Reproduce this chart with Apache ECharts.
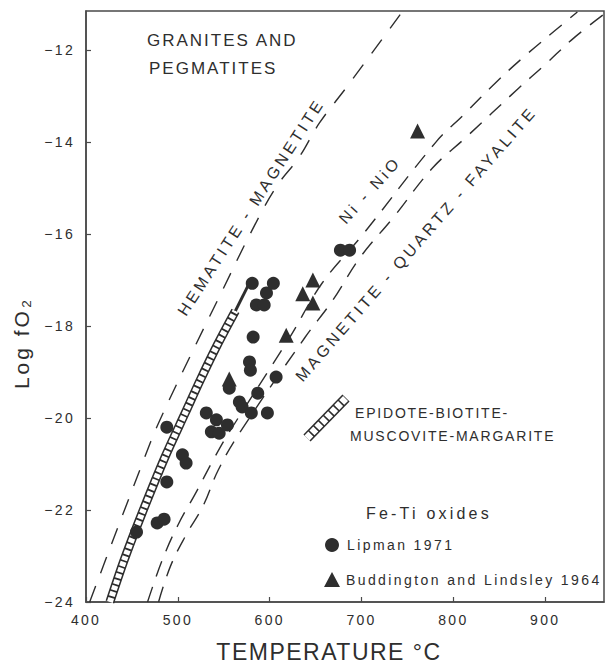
<!DOCTYPE html>
<html>
<head>
<meta charset="utf-8">
<script src="https://cdn.jsdelivr.net/npm/echarts@6/dist/echarts.min.js"></script>
<style>
html,body{margin:0;padding:0;background:#fff;}
#chart{width:606px;height:665px;}
</style>
</head>
<body>
<div id="chart"></div>
<script>
// ---- data ----
const xTicks = [400, 500, 600, 700, 800, 900];
const yTicks = [-24, -22, -20, -18, -16, -14, -12];

// buffer curves (temperature °C, log fO2)
const hmBuffer = [[404,-24],[470,-20.54],[484,-19.89],[515,-18.59],[545,-17.37],[581,-15.91],[607,-14.98],[632,-14.33],[654,-13.59],[684,-12.80],[745,-11.15]];
const nnoBuffer = [[467,-24],[483,-23.09],[500,-22.33],[520,-21.61],[538,-20.93],[554,-20.37],[622,-18.24],[657,-17.07],[701,-16.02],[781,-14.0],[811,-13.41],[848,-12.67],[880,-12.09],[911,-11.57],[935,-11.17]];
const qfmBuffer = [[479,-24],[492,-23.22],[509,-22.54],[527,-21.93],[544,-21.13],[567,-20.33],[638,-18.26],[669,-17.43],[698,-16.52],[735,-15.63],[777,-14.57],[813,-13.91],[871,-12.83],[899,-12.33],[931,-11.74],[964,-11.22]];

// epidote-biotite-muscovite-margarite band and its solid upper end
const ebmmBand = [[426,-24],[441.5,-23.09],[461,-22.07],[486,-20.85],[508,-19.89],[524.5,-19.17],[543,-18.41],[562.7,-17.67]];
const ebmmCap = [[562.7,-17.67],[580,-16.98]];

// Fe-Ti oxide data
const lipman1971 = [
  [488,-20.20],[505,-20.80],[509,-20.98],[488,-21.39],[477.5,-22.28],[485,-22.20],[455,-22.48],
  [531,-19.89],[542,-20.04],[536.5,-20.30],[545,-20.33],[554,-20.15],[567,-19.65],[570,-19.76],
  [580,-19.89],[597.5,-19.89],[587,-19.46],[578,-18.78],[579,-18.96],[582,-18.24],[607,-19.11],
  [581,-17.07],[604,-17.07],[596.5,-17.28],[585.5,-17.54],[594,-17.54],[556,-19.35],
  [677,-16.35],[687,-16.35]
];
const buddington1964 = [[761,-13.76],[647,-17.0],[636,-17.30],[647,-17.50],[618,-18.20],[556,-19.15]];

// ---- styling ----
const INK = '#2e2e2e';
const AXIS = '#4a4a4a';
const FONT = 'Liberation Sans';
const spacing = {
  'GRANITES AND': 2, 'PEGMATITES': 2,
  'HEMATITE - MAGNETITE': 3.4, 'Ni - NiO': 3.4, 'MAGNETITE - QUARTZ - FAYALITE': 3.4,
  'EPIDOTE-BIOTITE-': 1.8, 'MUSCOVITE-MARGARITE': 1.8,
  'Fe-Ti oxides': 3.2, 'Lipman 1971': 2.4, 'Buddington and Lindsley 1964': 2.4,
  'Log fO\u2082': 3, 'TEMPERATURE \u00B0C': 1.5
};

function txt(text, x, y, size, opts) {
  opts = opts || {};
  return {
    type: 'text', x: x, y: y, rotation: (opts.rot || 0) * Math.PI / 180, silent: true, z: 50,
    style: {
      text: text, fill: INK, font: size + 'px "' + FONT + '"',
      align: opts.align || 'left', verticalAlign: 'middle'
    }
  };
}

const chart = echarts.init(document.getElementById('chart'), null, { renderer: 'svg' });

const option = {
  animation: false,
  backgroundColor: '#fff',
  grid: { left: 86, right: 2, top: 11, bottom: 63, show: true, borderColor: AXIS, borderWidth: 1.5, backgroundColor: 'transparent' },
  xAxis: {
    type: 'value', min: 400, max: 964, interval: 100,
    axisLine: { show: true, lineStyle: { color: AXIS, width: 1.5 } },
    axisTick: { show: true, inside: true, length: 5, lineStyle: { color: AXIS, width: 1.2 } },
    splitLine: { show: false },
    axisLabel: {
      margin: 11, color: INK, fontSize: 14, fontFamily: FONT, showMaxLabel: false,
      formatter: v => xTicks.indexOf(v) >= 0 ? String(v) : ''
    }
  },
  yAxis: {
    type: 'value', min: -24, max: -11.15, interval: 2,
    axisLine: { show: true, lineStyle: { color: AXIS, width: 1.5 } },
    axisTick: { show: true, inside: true, length: 5, lineStyle: { color: AXIS, width: 1.2 } },
    splitLine: { show: false },
    axisLabel: {
      margin: 11, color: INK, fontSize: 14, fontFamily: FONT, showMaxLabel: false,
      formatter: v => yTicks.indexOf(v) >= 0 ? '\u2212' + Math.abs(v) : ''
    }
  },
  legend: [
    {
      data: ['Lipman 1971'], left: 325, top: 538, padding: 0, itemWidth: 14, itemHeight: 14,
      icon: 'circle', selectedMode: false,
      textStyle: { color: INK, fontSize: 14, fontFamily: FONT, padding: [0, 0, 0, 3] }
    },
    {
      data: ['Buddington and Lindsley 1964'], left: 324, top: 572, padding: 0, itemWidth: 16, itemHeight: 15,
      icon: 'triangle', selectedMode: false,
      textStyle: { color: INK, fontSize: 14, fontFamily: FONT, padding: [0, 0, 0, 1] }
    }
  ],
  series: [
    { name: 'HM', type: 'line', data: hmBuffer, smooth: 0.4, showSymbol: false, silent: true,
      lineStyle: { color: INK, width: 1.4, type: [17, 14] }, z: 2 },
    { name: 'NNO', type: 'line', data: nnoBuffer, smooth: 0.4, showSymbol: false, silent: true,
      lineStyle: { color: INK, width: 1.4, type: [16, 11] }, z: 2 },
    { name: 'QFM', type: 'line', data: qfmBuffer, smooth: 0.4, showSymbol: false, silent: true,
      lineStyle: { color: INK, width: 1.4, type: [16, 11] }, z: 2 },
    { name: 'EBMM-outline', type: 'line', data: ebmmBand, smooth: 0.3, showSymbol: false, silent: true,
      lineStyle: { color: INK, width: 9, cap: 'butt' }, z: 3 },
    { name: 'EBMM-fill', type: 'line', data: ebmmBand, smooth: 0.3, showSymbol: false, silent: true,
      lineStyle: { color: '#fff', width: 6, type: [4.5, 1.8], cap: 'butt' }, z: 4 },
    { name: 'EBMM-cap', type: 'line', data: ebmmCap, showSymbol: false, silent: true,
      lineStyle: { color: INK, width: 3 }, z: 4 },
    { name: 'Lipman 1971', type: 'scatter', data: lipman1971, symbol: 'circle', symbolSize: 13,
      itemStyle: { color: INK, opacity: 1 }, z: 6 },
    { name: 'Buddington and Lindsley 1964', type: 'scatter', data: buddington1964, symbol: 'triangle', symbolSize: 15,
      itemStyle: { color: INK, opacity: 1 }, z: 6 }
  ],
  graphic: [
    txt('GRANITES AND', 147, 40, 17),
    txt('PEGMATITES', 149, 68, 17),
    txt('HEMATITE - MAGNETITE', 251, 207, 16, { align: 'center', rot: 57 }),
    txt('Ni - NiO', 370, 190, 16, { align: 'center', rot: 48 }),
    txt('MAGNETITE - QUARTZ - FAYALITE', 416, 244, 16, { align: 'center', rot: 49 }),
    txt('EPIDOTE-BIOTITE-', 355, 413, 14),
    txt('MUSCOVITE-MARGARITE', 350, 436, 14),
    txt('Fe-Ti oxides', 366, 513, 16),
    txt('Log fO\u2082', 21, 343, 21, { align: 'center', rot: 90 }),
    txt('TEMPERATURE \u00B0C', 329, 652, 23, { align: 'center' }),
    { type: 'polyline', silent: true, z: 40, shape: { points: [[307, 438], [346, 398]] },
      style: { stroke: INK, lineWidth: 10, fill: null, lineCap: 'butt' } },
    { type: 'polyline', silent: true, z: 41, shape: { points: [[307, 438], [346, 398]] },
      style: { stroke: '#fff', lineWidth: 7, fill: null, lineDash: [5.5, 1.6], lineCap: 'butt' } }
  ]
};

chart.setOption(option);

function applySpacing() {
  document.querySelectorAll('#chart text').forEach(function (t) {
    const key = t.textContent;
    const s = spacing.hasOwnProperty(key) ? spacing[key] : 2.3;
    t.setAttribute('letter-spacing', s + 'px');
  });
}
applySpacing();
chart.on('finished', applySpacing);
</script>
</body>
</html>
